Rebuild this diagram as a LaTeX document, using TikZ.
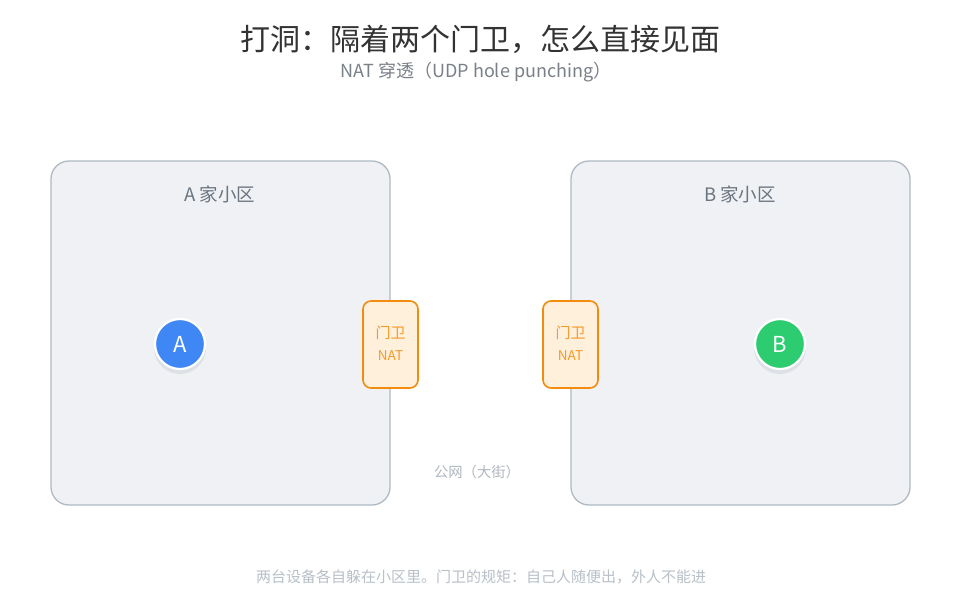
\documentclass[tikz,border=0pt]{standalone}
\usepackage{fontspec}
\setmainfont{Noto Sans CJK SC}
\definecolor{zonefill}{HTML}{EFF1F5}
\definecolor{zoneline}{HTML}{B0BAC3}
\definecolor{natfill}{HTML}{FFF0DC}
\definecolor{natline}{HTML}{F28C0F}
\definecolor{nattext}{HTML}{F59A2A}
\definecolor{titlec}{HTML}{333333}
\definecolor{subc}{HTML}{7A8088}
\definecolor{zonetext}{HTML}{6B7580}
\definecolor{streetc}{HTML}{B0B8C0}
\definecolor{footc}{HTML}{B8C0C8}
\definecolor{blueA}{HTML}{3F87F5}
\definecolor{greenB}{HTML}{2ECC71}
\definecolor{shadowc}{HTML}{DDE1E6}
\tikzset{
  zone/.style={draw=zoneline, fill=zonefill, line width=1.3pt, rounded corners=18pt},
  natbox/.style={draw=natline, fill=natfill, line width=1.6pt, rounded corners=8pt, minimum width=55pt, minimum height=87pt, inner sep=0pt},
  dev/.style={circle, draw=white, line width=2.2pt, minimum size=50pt, inner sep=0pt, text=white, font=\fontsize{22}{24}\selectfont},
}
\begin{document}
\begin{tikzpicture}[x=1pt, y=-1pt]
\useasboundingbox (0,0) rectangle (960,600);
\fill[white] (0,0) rectangle (960,600);
% title
\node[text=titlec, font=\fontsize{30}{34}\selectfont] (title) at (480,39) {打洞：隔着两个门卫，怎么直接见面};
\node[text=subc, font=\fontsize{18}{20}\selectfont] (sub) at (476,72) {NAT 穿透（UDP hole punching）};
% zones
\draw[zone] (51,161) rectangle (390,505);
\draw[zone] (571,161) rectangle (910,505);
\node[text=zonetext, font=\fontsize{18.5}{20}\selectfont] (labA) at (220,194) {A 家小区};
\node[text=zonetext, font=\fontsize{18.5}{20}\selectfont] (labB) at (740,194) {B 家小区};
% NAT boxes
\node[natbox] (natA) at (390.5,344.5) {};
\node[text=nattext, font=\fontsize{15}{17}\selectfont] (natAt) at (390.5,333) {门卫};
\node[text=nattext, font=\fontsize{13.5}{15}\selectfont] (natAn) at (390.5,356) {NAT};
\node[natbox] (natB) at (570.5,344.5) {};
\node[text=nattext, font=\fontsize{15}{17}\selectfont] (natBt) at (570.5,333) {门卫};
\node[text=nattext, font=\fontsize{13.5}{15}\selectfont] (natBn) at (570.5,356) {NAT};
% devices
\fill[shadowc] (180,348) circle (26pt);
\node[dev, fill=blueA] (A) at (180,344) {A};
\fill[shadowc] (780,348) circle (26pt);
\node[dev, fill=greenB] (B) at (780,344) {B};
% street
\node[text=streetc, font=\fontsize{14.3}{16}\selectfont] (street) at (477,472) {公网（大街）};
% footer
\node[text=footc, font=\fontsize{15}{17}\selectfont] (foot) at (481,577) {两台设备各自躲在小区里。门卫的规矩：自己人随便出，外人不能进};
\end{tikzpicture}
\end{document}
